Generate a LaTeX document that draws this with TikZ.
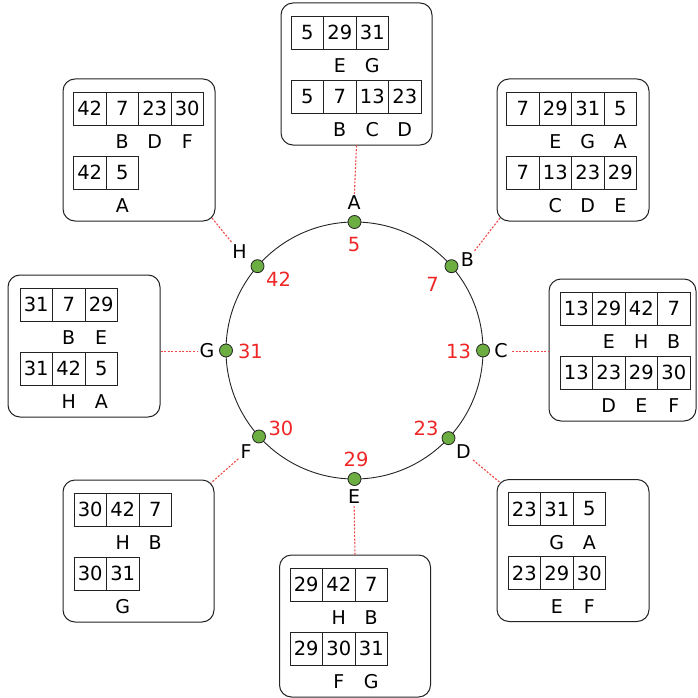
\documentclass[tikz,border=0pt]{standalone}
\usepackage{fontspec}
\setmainfont{DejaVu Sans}
\usetikzlibrary{calc}
\definecolor{dotgreen}{RGB}{108,174,66}
\definecolor{numred}{RGB}{238,38,38}
\definecolor{linered}{RGB}{240,70,70}
\definecolor{edgecol}{RGB}{35,35,35}

\newcommand\celltable[5]{%
  \foreach \v [count=\i] in {#4} {
    \node[cell] (#1c\i) at ({#2+(\i-0.5)*32.5},{#3+16.5}) {\v};
  }
  \foreach \l [count=\i] in {#5} {
    \node[tlab] (#1l\i) at ({#2+(\i+0.5)*32.5},{#3+50}) {\l};
  }
}
\newcommand\infobox[9]{%
  \node[rbox, minimum width=#4pt, minimum height=142pt] (box#1) at ({#2+#4/2},{#3+71}) {};
  \celltable{#1a}{#5}{#3+13}{#6}{#7}
  \celltable{#1b}{#5}{#3+77}{#8}{#9}
}

\begin{document}
\begin{tikzpicture}[x=1pt,y=-1pt,
  cell/.style={draw=edgecol, line width=0.8pt, minimum width=32.5pt, minimum height=33pt, inner sep=0pt, font=\fontsize{19.5}{19.5}\selectfont},
  tlab/.style={inner sep=0pt, font=\fontsize{19}{19}\selectfont},
  rbox/.style={draw=edgecol, line width=1pt, rounded corners=12pt, inner sep=0pt},
  gdot/.style={circle, draw=edgecol, line width=0.8pt, fill=dotgreen, minimum size=13pt, inner sep=0pt},
  plab/.style={inner sep=2pt, font=\fontsize{19}{19}\selectfont},
  nlab/.style={inner sep=0pt, text=numred, font=\fontsize{19.5}{19.5}\selectfont},
  conn/.style={color=linered, line width=1.1pt, dash pattern=on 2pt off 1.6pt}]
\useasboundingbox (0,0) rectangle (697,698);
\coordinate (O) at (354.5,350.5);
\draw[line width=0.9pt, edgecol] (O) circle[radius=128.5pt];

% boxes
\infobox{A}{281}{3}{151}{291}{5,29,31}{E,G}{5,7,13,23}{B,C,D}
\infobox{H}{63}{79}{152}{73.5}{42,7,23,30}{B,D,F}{42,5}{A}
\infobox{B}{497}{79}{152}{506.5}{7,29,31,5}{E,G,A}{7,13,23,29}{C,D,E}
\infobox{G}{8}{275}{152}{20}{31,7,29}{B,E}{31,42,5}{H,A}
\infobox{C}{549}{279}{147}{560}{13,29,42,7}{E,H,B}{13,23,29,30}{D,E,F}
\infobox{F}{63}{480}{151}{74}{30,42,7}{H,B}{30,31}{G}
\infobox{E}{279.5}{555}{151}{290}{29,42,7}{H,B}{29,30,31}{F,G}
\infobox{D}{497}{479.5}{152}{508}{23,31,5}{G,A}{23,29,30}{E,F}

% ring nodes
\node[gdot] (dA) at ($(O)+(90:128.5pt)$) {};
\node[gdot] (dB) at ($(O)+(41:128.5pt)$) {};
\node[gdot] (dC) at ($(O)+(0:128.5pt)$) {};
\node[gdot] (dD) at ($(O)+(-43:128.5pt)$) {};
\node[gdot] (dE) at ($(O)+(-90:128.5pt)$) {};
\node[gdot] (dF) at ($(O)+(-138:128.5pt)$) {};
\node[gdot] (dG) at ($(O)+(180:128.5pt)$) {};
\node[gdot] (dH) at ($(O)+(139:128.5pt)$) {};

% letter labels
\node[plab] (lblA) at (354,203) {A};
\node[plab] (lblB) at (467.5,260) {B};
\node[plab] (lblC) at (501,351) {C};
\node[plab] (lblD) at (463.5,452) {D};
\node[plab] (lblE) at (354,497) {E};
\node[plab] (lblF) at (246,452) {F};
\node[plab] (lblG) at (207,351) {G};
\node[plab] (lblH) at (239.5,252) {H};

% red numbers
\node[nlab] (nA) at (354,245) {5};
\node[nlab] (nB) at (432.5,284) {7};
\node[nlab] (nC) at (458.5,351.5) {13};
\node[nlab] (nD) at (426,428.5) {23};
\node[nlab] (nE) at (356,459.5) {29};
\node[nlab] (nF) at (281,428.5) {30};
\node[nlab] (nG) at (250.5,351.5) {31};
\node[nlab] (nH) at (278.5,279.5) {42};

% connector end points
\coordinate (cH) at ($(boxH.south east)+(-3.5,-3.5)$);
\coordinate (cB) at ($(boxB.south west)+(3.5,-3.5)$);
\coordinate (cD) at ($(boxD.north west)+(3.5,3.5)$);
\coordinate (cF) at ($(boxF.north east)+(-3.5,3.5)$);
\coordinate (cG) at (160.5,351.5);
\coordinate (cC) at (549,351.5);
\coordinate (gG) at (197,351.5);
\coordinate (gC) at (512,351.5);

% connectors
\draw[conn] (boxA.south) -- (lblA);
\draw[conn] (cH) -- (lblH);
\draw[conn] (cB) -- (lblB);
\draw[conn] (cG) -- (gG);
\draw[conn] (gC) -- (cC);
\draw[conn] (lblD) -- (cD);
\draw[conn] (lblE) -- (boxE.north);
\draw[conn] (lblF) -- (cF);
\end{tikzpicture}
\end{document}
